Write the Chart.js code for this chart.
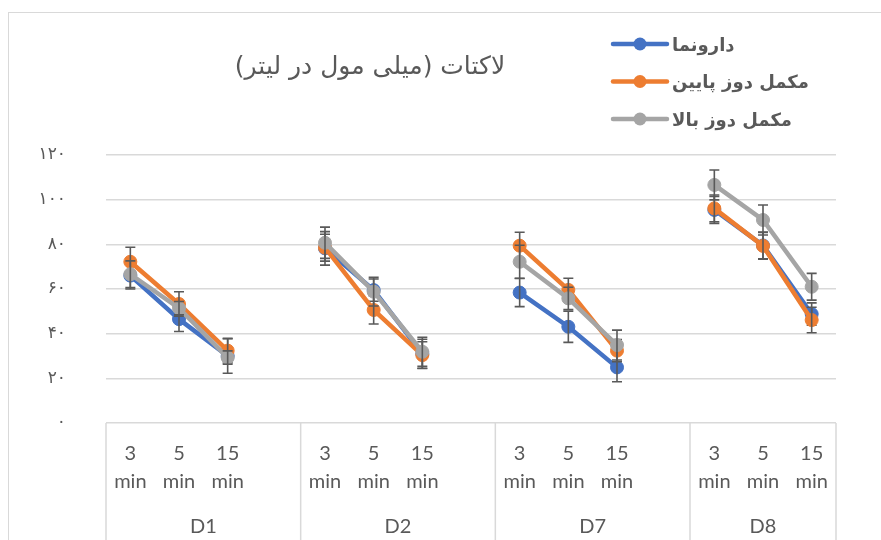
<!DOCTYPE html>
<html>
<head>
<meta charset="utf-8">
<script src="https://cdn.jsdelivr.net/npm/chart.js@4.4.1/dist/chart.umd.min.js"></script>
<style>
  html, body { margin: 0; padding: 0; background: #fff; overflow: hidden; }
  #wrap { position: relative; width: 881px; height: 540px; }
  #frame { position: absolute; left: 8px; top: 12px; width: 900px; height: 560px;
           border-left: 1.5px solid #d9d9d9; border-top: 1.5px solid #d9d9d9; pointer-events: none; }
</style>
</head>
<body>
<div id="wrap">
  <canvas id="chart" width="881" height="540"></canvas>
  <div id="frame"></div>
</div>
<script>
const titleText = 'لاکتات (میلی مول در لیتر)';
const groups = ['D1', 'D2', 'D7', 'D8'];
const times = ['3 min', '5 min', '15 min'];
const yTicks = [0, 20, 40, 60, 80, 100, 120];

const seriesNames = ['دارونما', 'مکمل دوز پایین', 'مکمل دوز بالا'];
const seriesColors = ['#4472C4', '#ED7D31', '#A5A5A5'];

// values per group: 3 min, 5 min, 15 min
const placebo = [66, 46.5, 30, 78.2, 59.5, 31, 58.4, 43.1, 24.9, 95.4, 79.5, 48.8];
const lowDose = [72.2, 53.3, 32.4, 78.5, 50.6, 30.4, 79.4, 59.6, 32.4, 96.1, 79.3, 46.1];
const highDose = [66.6, 51.4, 29.3, 80.7, 58.8, 31.9, 72.2, 55.8, 34.9, 106.6, 90.9, 61];

const placeboErr = [6, 5.5, 7.7, 7.5, 5, 6.5, 6.3, 7, 6.4, 6, 6, 5];
const lowDoseErr = [6.5, 5.5, 5.5, 6, 6.3, 6, 6, 5.2, 5, 6, 6, 5.7];
const highDoseErr = [6, 3, 3, 7, 6.4, 6.5, 7.4, 5, 6.7, 6.7, 6.7, 6];

const faDigits = '۰۱۲۳۴۵۶۷۸۹';
const toFa = n => String(n).replace(/[0-9]/g, d => faDigits[d]);

// build category labels with a blank slot after each group but the last
const labels = [];
groups.forEach((g, gi) => {
    times.forEach(t => labels.push(t));
    if (gi < groups.length - 1) labels.push('');
});

function spread(arr) {
    const out = [];
    groups.forEach((g, gi) => {
        times.forEach((t, ti) => out.push(arr[gi * times.length + ti]));
        if (gi < groups.length - 1) out.push(null);
    });
    return out;
}

const values = [placebo, lowDose, highDose];
const errors = [placeboErr, lowDoseErr, highDoseErr];

const datasets = seriesNames.map((name, i) => ({
    label: name,
    data: spread(values[i]),
    err: spread(errors[i]),
    borderColor: seriesColors[i],
    backgroundColor: seriesColors[i],
    pointBackgroundColor: seriesColors[i],
    pointBorderColor: seriesColors[i],
    borderWidth: 4.5,
    pointRadius: 6.5,
    pointBorderWidth: 1,
    tension: 0,
    spanGaps: false,
    order: seriesNames.length - i
}));

const textColor = '#595959';

const errorBars = {
    id: 'errorBars',
    afterDatasetDraw(chart, args) {
        const ds = chart.data.datasets[args.index];
        const y = chart.scales.y;
        const ctx = chart.ctx;
        ctx.save();
        ctx.strokeStyle = '#595959';
        ctx.lineWidth = 1.6;
        args.meta.data.forEach((pt, i) => {
            const v = ds.data[i], e = ds.err[i];
            if (v == null || e == null) return;
            const top = y.getPixelForValue(v + e);
            const bot = y.getPixelForValue(v - e);
            ctx.beginPath();
            ctx.moveTo(pt.x, top); ctx.lineTo(pt.x, bot);
            ctx.moveTo(pt.x - 5, top); ctx.lineTo(pt.x + 5, top);
            ctx.moveTo(pt.x - 5, bot); ctx.lineTo(pt.x + 5, bot);
            ctx.stroke();
        });
        ctx.restore();
    }
};

const decorations = {
    id: 'decorations',
    afterDraw(chart) {
        const ctx = chart.ctx;
        const x = chart.scales.x;
        const area = chart.chartArea;
        const w = x.getPixelForValue(1) - x.getPixelForValue(0);
        const x0 = x.getPixelForValue(0) - w / 2;

        // group boxes under the axis: each box ends after its blank slot
        const edges = [0];
        labels.forEach((l, i) => { if (l === '') edges.push(i + 1); });
        edges.push(labels.length);
        ctx.save();
        ctx.strokeStyle = '#d9d9d9';
        ctx.lineWidth = 1.5;
        edges.forEach(i => {
            const px = x0 + i * w;
            ctx.beginPath();
            ctx.moveTo(px, area.bottom);
            ctx.lineTo(px, chart.height);
            ctx.stroke();
        });
        ctx.fillStyle = textColor;
        ctx.font = '20px Lato';
        ctx.textAlign = 'center';
        ctx.textBaseline = 'middle';
        groups.forEach((g, gi) => {
            const a = x0 + edges[gi] * w;
            const b = x0 + edges[gi + 1] * w;
            ctx.fillText(g, (a + b) / 2, 527);
        });

        // title
        ctx.direction = 'rtl';
        ctx.font = '25px "DejaVu Sans"';
        ctx.textAlign = 'center';
        ctx.fillText(titleText, 370, 67);

        // legend
        chart.data.datasets.forEach((ds, i) => {
            const cy = 44 + i * 37.5;
            ctx.strokeStyle = ds.borderColor;
            ctx.lineWidth = 4.5;
            ctx.lineCap = 'round';
            ctx.beginPath();
            ctx.moveTo(613, cy); ctx.lineTo(667, cy);
            ctx.stroke();
            ctx.fillStyle = ds.borderColor;
            ctx.beginPath();
            ctx.arc(640, cy, 6.5, 0, Math.PI * 2);
            ctx.fill();
            ctx.fillStyle = textColor;
            ctx.font = 'bold 18px "DejaVu Sans"';
            ctx.textAlign = 'left';
            ctx.direction = 'rtl';
            ctx.fillText(ds.label, 672, cy + 2);
        });
        ctx.restore();
    }
};

new Chart(document.getElementById('chart'), {
    type: 'line',
    data: { labels: labels, datasets: datasets },
    options: {
        responsive: false,
        animation: false,
        layout: { padding: { top: 155, right: 45, left: 0, bottom: 0 } },
        plugins: { legend: { display: false }, title: { display: false }, tooltip: { enabled: false } },
        scales: {
            x: {
                offset: true,
                grid: { display: false, drawTicks: false },
                border: { display: false },
                ticks: {
                    autoSkip: false, maxRotation: 0, minRotation: 0,
                    color: textColor, padding: 17,
                    font: { family: 'Lato', size: 20, lineHeight: 1.4 },
                    callback: function (v, i) {
                        const l = labels[i];
                        return l ? l.split(' ') : '';
                    }
                },
                afterFit: s => { s.height = 117; }
            },
            y: {
                min: yTicks[0], max: yTicks[yTicks.length - 1],
                afterBuildTicks: s => { s.ticks = yTicks.map(v => ({ value: v })); },
                grid: { color: '#d9d9d9', lineWidth: 1.5, drawTicks: false },
                border: { display: false },
                ticks: {
                    color: textColor, padding: 40,
                    font: { family: 'DejaVu Sans', size: 17 },
                    callback: v => toFa(v)
                },
                afterFit: s => { s.width = 106; }
            }
        }
    },
    plugins: [errorBars, decorations]
});
</script>
</body>
</html>
